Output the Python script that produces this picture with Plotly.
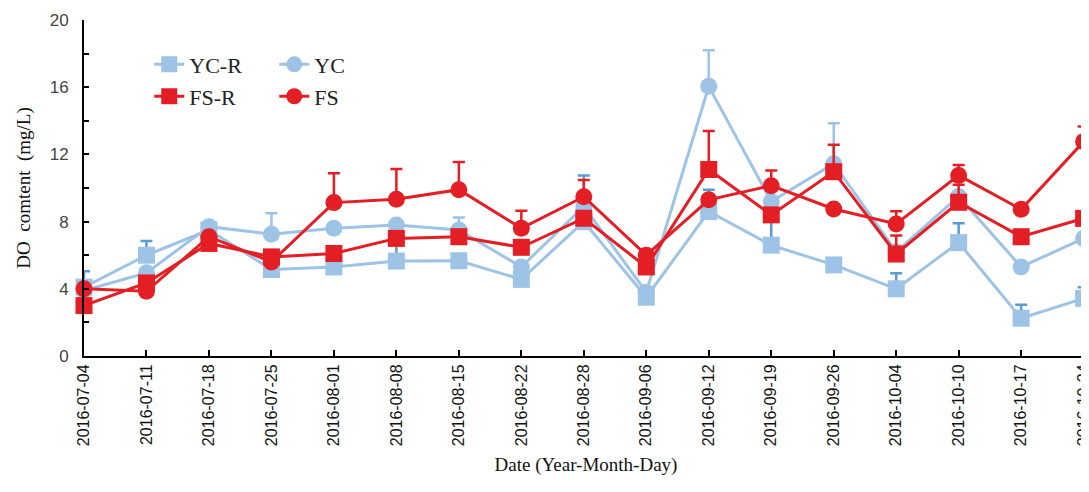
import plotly.graph_objects as go

dates = ["2016-07-04", "2016-07-11", "2016-07-18", "2016-07-25", "2016-08-01", "2016-08-08",
         "2016-08-15", "2016-08-22", "2016-08-28", "2016-09-06", "2016-09-12", "2016-09-19",
         "2016-09-26", "2016-10-04", "2016-10-10", "2016-10-17", "2016-10-24"]

yc_r = [4.1, 6.0, 7.5, 5.15, 5.3, 5.65, 5.67, 4.56, 8.0, 3.5, 8.6, 6.6, 5.42, 4.0, 6.75, 2.25, 3.43]
yc_r_err = [0.95, 0.85, 0, 0, 0, 1.2, 0, 0, 2.75, 0, 1.3, 1.4, 0, 0.92, 1.15, 0.8, 0.66]

yc = [3.9, 4.95, 7.7, 7.25, 7.6, 7.8, 7.5, 5.3, 8.9, 3.8, 16.05, 9.2, 11.45, 6.2, 9.5, 5.3, 7.0]
yc_err = [0, 0, 0, 1.25, 0, 0, 0.75, 0, 0, 0, 2.15, 0, 2.4, 0, 0, 0, 0]

fs_r = [3.0, 4.35, 6.7, 5.9, 6.1, 7.0, 7.1, 6.47, 8.2, 5.3, 11.1, 8.4, 10.97, 6.07, 9.15, 7.1, 8.19]
fs_r_err = [0, 0, 0, 0, 0, 0, 0, 0, 0, 0, 2.3, 0, 1.6, 1.1, 1.05, 0, 0]

fs = [4.0, 3.85, 7.1, 5.6, 9.13, 9.33, 9.9, 7.6, 9.48, 6.0, 9.3, 10.14, 8.75, 7.86, 10.75, 8.73, 12.76]
fs_err = [0, 0, 0, 0, 1.75, 1.8, 1.65, 1.05, 1.0, 0, 0, 0.9, 0, 0.75, 0.62, 0, 0.9]

LIGHT = "#9DC3E6"
DARK = "#5B9BD5"
RED = "#E31E24"

def series(name, y, err, color, ecolor, symbol, legend):
    return go.Scatter(
        x=dates, y=y, name=name, mode="lines+markers",
        line=dict(color=color, width=3),
        marker=dict(symbol=symbol, size=17, color=color),
        error_y=dict(type="data", symmetric=False, array=err, arrayminus=[0] * len(err),
                     color=ecolor, thickness=2.5, width=6),
        legend=legend, cliponaxis=False,
    )

fig = go.Figure()
fig.add_trace(series("YC-R", yc_r, yc_r_err, LIGHT, DARK, "square", "legend"))
fig.add_trace(series("YC", yc, yc_err, LIGHT, LIGHT, "circle", "legend"))
fig.add_trace(series("FS-R", fs_r, fs_r_err, RED, RED, "square", "legend2"))
fig.add_trace(series("FS", fs, fs_err, RED, RED, "circle", "legend2"))

legend_common = dict(orientation="h", bgcolor="rgba(0,0,0,0)", xanchor="left", yanchor="top",
                     font=dict(family="Liberation Serif", size=22, color="#222"),
                     entrywidth=80, itemclick=False)

fig.update_layout(
    width=1081, height=484,
    margin=dict(l=76, r=1, t=12, b=136),
    paper_bgcolor="white", plot_bgcolor="white",
    showlegend=True,
    legend=dict(x=0.065, y=0.93, **legend_common),
    legend2=dict(x=0.065, y=0.835, **legend_common),
    xaxis=dict(
        type="category", range=[0, 16.07], automargin=False,
        showline=True, linecolor="black", linewidth=2,
        ticks="inside", ticklen=6, tickwidth=1.5, tickcolor="black",
        tickangle=-90, tickfont=dict(family="Liberation Sans", size=16, color="#111"),
        ticklabeloverflow="allow",
        showgrid=False, zeroline=False,
        title=dict(text="Date (Year-Month-Day)", font=dict(family="Liberation Serif", size=19, color="#111"),
                   standoff=12),
    ),
    yaxis=dict(
        range=[0, 20], tickvals=[0, 4, 8, 12, 16, 20], automargin=False,
        showline=True, linecolor="black", linewidth=2,
        ticks="inside", ticklen=5, tickwidth=1.5, tickcolor="black",
        minor=dict(dtick=2, ticks="inside", ticklen=5, tickwidth=1.5, tickcolor="black"),
        tickfont=dict(family="Liberation Sans", size=17, color="#444"),
        ticklabelstandoff=10,
        showgrid=False, zeroline=False,
        title=dict(text="DO\u00a0 comtent\u00a0 (mg/L)", font=dict(family="Liberation Serif", size=19, color="#111"),
                   standoff=14),
    ),
)

fig.write_html("out.html")
